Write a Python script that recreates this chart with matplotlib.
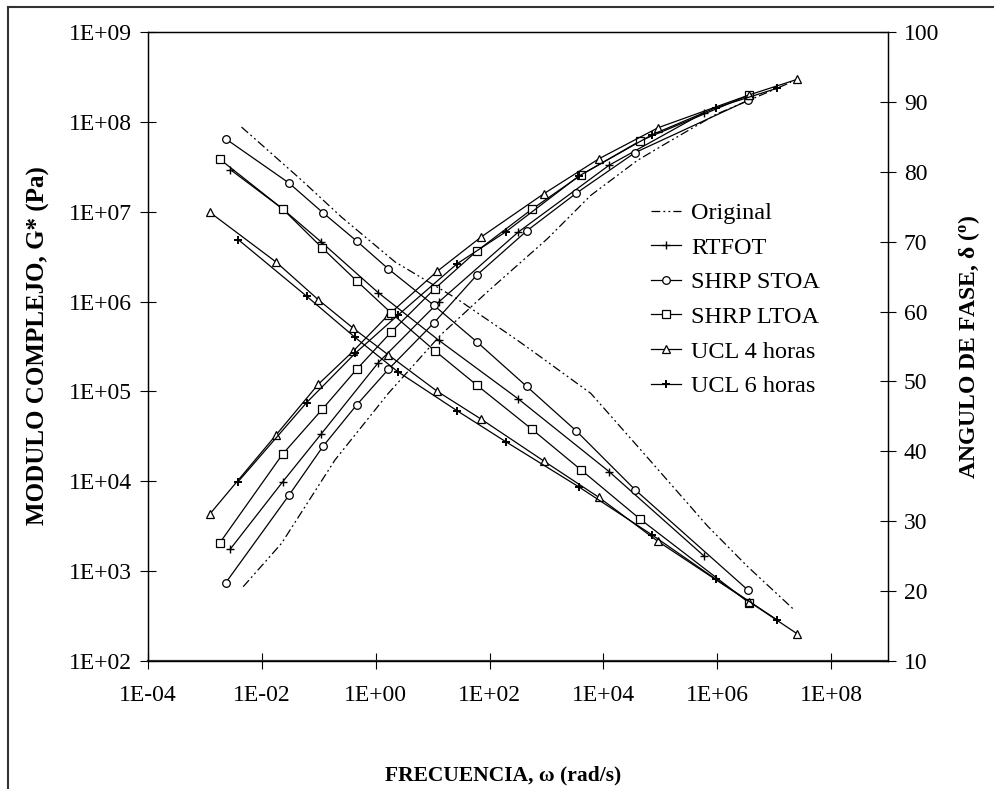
import numpy as np
import matplotlib.pyplot as plt
from matplotlib.lines import Line2D
from matplotlib.ticker import FixedLocator, NullLocator

plt.rcParams['font.family'] = 'Liberation Serif'
plt.rcParams['mathtext.fontset'] = 'custom'
plt.rcParams['mathtext.rm'] = 'Liberation Serif'
plt.rcParams['mathtext.bf'] = 'Liberation Serif:bold'

# --- data (frequency in rad/s) ---
orig_w_g = [4.70e-3, 2.22e-2, 0.193, 1.67, 13.7, 91.2, 1040, 6000, 3.97e4, 1.17e5, 9.48e5, 1.98e7]
orig_g = [671, 2040, 1.73e4, 9.53e4, 4.22e5, 1.28e6, 5.01e6, 1.52e7, 3.73e7, 5.60e7, 1.21e8, 2.76e8]
orig_w_d = [4.39e-3, 8.63e-3, 4.99e-2, 0.252, 2.19, 27.0, 308, 603, 6000, 4.54e4, 6.78e5, 3.43e6, 2.26e7]
orig_d = [86.4, 84.3, 78.8, 73.5, 67.1, 61.8, 55.9, 54.2, 48.3, 40.2, 29.3, 23.5, 17.3]

rtfot_w = [2.81e-3, 2.31e-2, 0.109, 1.11, 12.8, 320, 1.26e4, 5.90e5]
rtfot_g = [1770, 9820, 3.33e4, 2.09e5, 9.89e5, 5.94e6, 3.29e7, 1.27e8]
rtfot_d = [80.3, 74.7, 70.0, 62.7, 55.9, 47.5, 37.1, 25.0]

stoa_w = [2.33e-3, 2.99e-2, 0.120, 0.462, 1.67, 10.5, 59.2, 448, 3360, 3.61e4, 3.52e6]
stoa_g = [745, 6980, 2.47e4, 7.06e4, 1.76e5, 5.78e5, 1.96e6, 6.10e6, 1.61e7, 4.55e7, 1.74e8]
stoa_d = [84.7, 78.4, 74.1, 70.1, 66.1, 60.9, 55.7, 49.3, 42.9, 34.5, 20.1]

ltoa_w = [1.83e-3, 2.31e-2, 0.115, 0.462, 1.87, 10.9, 59.2, 548, 4110, 4.42e4, 3.66e6]
ltoa_g = [2070, 2.00e4, 6.32e4, 1.76e5, 4.58e5, 1.39e6, 3.63e6, 1.06e7, 2.58e7, 6.14e7, 1.99e8]
ltoa_d = [81.8, 74.7, 69.1, 64.4, 59.8, 54.4, 49.5, 43.2, 37.3, 30.3, 18.3]

ucl4_w = [1.22e-3, 1.77e-2, 9.79e-2, 0.405, 1.67, 12.0, 71.4, 904, 8390, 9.16e4, 3.61e6, 2.53e7]
ucl4_g = [4320, 3.27e4, 1.20e5, 2.82e5, 7.10e5, 2.17e6, 5.24e6, 1.59e7, 3.89e7, 8.61e7, 1.99e8, 2.97e8]
ucl4_d = [74.2, 67.1, 61.7, 57.6, 53.8, 48.6, 44.6, 38.6, 33.4, 27.1, 18.5, 13.9]

ucl6_w = [3.84e-3, 6.11e-2, 0.434, 2.44, 27.0, 191, 3730, 7.29e4, 9.48e5, 1.12e7]
ucl6_g = [9910, 7.50e4, 2.65e5, 7.03e5, 2.64e6, 5.94e6, 2.50e7, 7.23e7, 1.44e8, 2.36e8]
ucl6_d = [70.3, 62.2, 56.3, 51.4, 45.8, 41.4, 34.9, 28.0, 21.7, 15.9]

labels = ['Original', 'RTFOT', 'SHRP STOA', 'SHRP LTOA', 'UCL 4 horas', 'UCL 6 horas']
x_ticks = [1e-4, 1e-2, 1e0, 1e2, 1e4, 1e6, 1e8]
x_ticklabels = ['1E-04', '1E-02', '1E+00', '1E+02', '1E+04', '1E+06', '1E+08']
g_ticks = [1e2, 1e3, 1e4, 1e5, 1e6, 1e7, 1e8, 1e9]
g_ticklabels = ['1E+02', '1E+03', '1E+04', '1E+05', '1E+06', '1E+07', '1E+08', '1E+09']
d_ticks = list(range(10, 101, 10))

W, H = 994, 789
fig = plt.figure(figsize=(W / 100, H / 100), dpi=100)
L, R, T, B = 148, 888, 32, 661
ax = fig.add_axes([L / W, 1 - B / H, (R - L) / W, (B - T) / H])
ax2 = ax.twinx()

lw = 0.9
dash = (0, (7, 2.5, 1.5, 2.5, 1.5, 2.5))
styles = [
    dict(color='black', lw=lw, linestyle=dash),
    dict(color='black', lw=lw, marker='+', ms=6, mew=1.0),
    dict(color='black', lw=lw, marker='o', ms=5.5, mfc='white', mew=0.9),
    dict(color='black', lw=lw, marker='s', ms=5.5, mfc='white', mew=0.9),
    dict(color='black', lw=lw, marker='^', ms=6, mfc='white', mew=0.9),
    dict(color='black', lw=lw, marker='+', ms=6, mew=1.4),
]

ax.plot(orig_w_g, orig_g, **styles[0])
ax.plot(rtfot_w, rtfot_g, **styles[1])
ax.plot(stoa_w, stoa_g, **styles[2])
ax.plot(ltoa_w, ltoa_g, **styles[3])
ax.plot(ucl4_w, ucl4_g, **styles[4])
ax.plot(ucl6_w, ucl6_g, **styles[5])

ax2.plot(orig_w_d, orig_d, **styles[0])
ax2.plot(rtfot_w, rtfot_d, **styles[1])
ax2.plot(stoa_w, stoa_d, **styles[2])
ax2.plot(ltoa_w, ltoa_d, **styles[3])
ax2.plot(ucl4_w, ucl4_d, **styles[4])
ax2.plot(ucl6_w, ucl6_d, **styles[5])

ax.set_xscale('log')
ax.set_yscale('log')
ax.set_xlim(1e-4, 1e9)
ax.set_ylim(1e2, 1e9)
ax2.set_ylim(10, 100)

ax.xaxis.set_major_locator(FixedLocator(x_ticks))
ax.xaxis.set_minor_locator(NullLocator())
ax.set_xticklabels(x_ticklabels)
ax.yaxis.set_major_locator(FixedLocator(g_ticks))
ax.yaxis.set_minor_locator(NullLocator())
ax.set_yticklabels(g_ticklabels)
ax2.yaxis.set_major_locator(FixedLocator(d_ticks))
ax2.yaxis.set_minor_locator(NullLocator())

fs = 17
ax.tick_params(axis='x', direction='inout', length=11, width=0.8, labelsize=fs, pad=12)
ax.tick_params(axis='y', direction='inout', length=11, width=0.8, labelsize=fs, pad=6)
ax2.tick_params(axis='y', direction='inout', length=11, width=0.8, labelsize=fs, pad=6)
for a in (ax, ax2):
    for s in a.spines.values():
        s.set_linewidth(0.9)
ax.spines['bottom'].set_linewidth(1.6)
ax.spines['bottom'].set_color('#333333')

fig.text(503 / W, 1 - 775 / H, 'FRECUENCIA, ω (rad/s)', ha='center', va='center',
         fontsize=15.5, fontweight='bold')
fig.text(38 / W, 1 - 346 / H, 'MODULO COMPLEJO, G* (Pa)', ha='center', va='center',
         rotation=90, fontsize=18, fontweight='bold')
fig.text(969 / W, 1 - 347 / H, r'ANGULO DE FASE, δ ($\mathbf{^{o}}$)', ha='center', va='center',
         rotation=90, fontsize=17, fontweight='bold')

handles = [Line2D([], [], **st) for st in styles]
leg = ax2.legend(handles, labels, loc='upper left', bbox_to_anchor=(651 / W, 1 - 202 / H),
                 bbox_transform=fig.transFigure, frameon=False, fontsize=17.5,
                 handlelength=1.25, handletextpad=0.4, labelspacing=0.52,
                 borderpad=0, borderaxespad=0)

# outer frame of the original sheet (left and top edges visible)
fig.add_artist(Line2D([8 / W, 8 / W], [0, 1 - 7 / H], color='#333333', lw=1.5,
                      transform=fig.transFigure))
fig.add_artist(Line2D([8 / W, 1.0], [1 - 7 / H, 1 - 7 / H], color='#333333', lw=1.5,
                      transform=fig.transFigure))

fig.savefig('out.png', dpi=100)
